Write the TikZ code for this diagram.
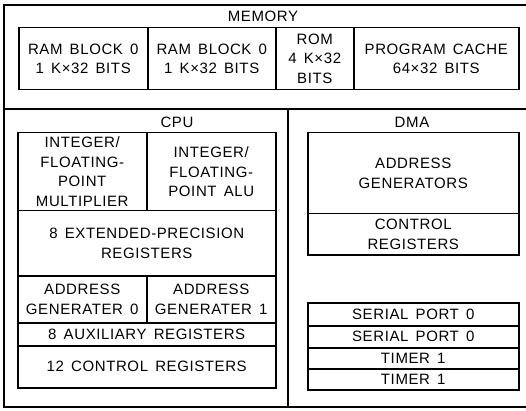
\documentclass[tikz,border=0pt]{standalone}
\usepackage{fontspec}
\setmainfont{Liberation Sans}[LetterSpace=4,WordSpace=1.5]
\tikzset{
  frame/.style={line width=1.8pt},
  box/.style={draw, line width=1.5pt, inner sep=0pt, align=center, anchor=north west,
    font=\fontsize{15}{19.5}\selectfont},
  lbl/.style={inner sep=0pt, font=\fontsize{15}{16}\selectfont},
}
\newcommand\bx[6]{\node[box, minimum width={(#4-#2)*1pt}, minimum height={(#5-#3)*1pt}] (#1) at (#2,#3) {#6};}
\begin{document}
\begin{tikzpicture}[x=1pt,y=-1pt]
\useasboundingbox (0,0) rectangle (526,411);
\clip (0,0) rectangle (526,411);
% outer frame
\coordinate (tl) at (4,5);
\coordinate (tr) at (532,5);
\coordinate (ml) at (4,109);
\coordinate (mr) at (532,109);
\coordinate (bl) at (4,407);
\coordinate (br) at (532,407);
\coordinate (vt) at (288,109);
\coordinate (vb) at (288,407);
\draw[frame] (tr) -- (tl) -- (bl) -- (br) -- (mr) -- cycle;
\draw[frame] (ml) -- (mr);
\draw[frame] (vt) -- (vb);
% memory
\node[lbl] (memlbl) at (263,16) {MEMORY};
\bx{ram0}{18}{27}{147}{89}{RAM BLOCK 0\\1 K×32 BITS}
\bx{ram1}{147}{27}{275}{89}{RAM BLOCK 0\\1 K×32 BITS}
\bx{rom}{275}{27}{353}{89}{ROM\\4 K×32\\BITS}
\bx{cache}{353}{27}{518}{89}{PROGRAM CACHE\\64×32 BITS}
% cpu
\node[lbl] (cpulbl) at (177,122) {CPU};
\bx{mult}{17}{132}{146}{210}{INTEGER/\\FLOATING-\\POINT\\MULTIPLIER}
\bx{alu}{146}{132}{275}{210}{INTEGER/\\FLOATING-\\POINT ALU}
\bx{ext}{17}{210}{275}{275}{8 EXTENDED-PRECISION\\REGISTERS}
\bx{ag0}{17}{275}{146}{322}{ADDRESS\\GENERATER 0}
\bx{ag1}{146}{275}{275}{322}{ADDRESS\\GENERATER 1}
\bx{aux}{17}{322}{275}{345}{8 AUXILIARY REGISTERS}
\bx{ctl}{17}{345}{275}{387}{12 CONTROL REGISTERS}
% dma
\node[lbl] (dmalbl) at (412,122) {DMA};
\bx{dag}{307}{132}{518}{213}{ADDRESS\\GENERATORS}
\bx{dctl}{307}{213}{518}{254}{CONTROL\\REGISTERS}
\bx{sp0}{307}{302}{518}{325}{SERIAL PORT 0}
\bx{sp1}{307}{325}{518}{347}{SERIAL PORT 0}
\bx{tm0}{307}{347}{518}{368}{TIMER 1}
\bx{tm1}{307}{368}{518}{389}{TIMER 1}
\end{tikzpicture}
\end{document}
